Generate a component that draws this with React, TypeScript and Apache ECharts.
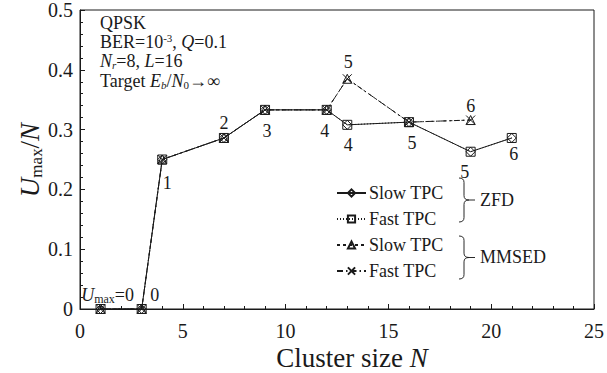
import React, { useEffect, useRef } from "react";
import * as echarts from "echarts";

// ---- data ----
const zfdN = [1, 3, 4, 7, 9, 12, 13, 16, 19, 21];
const zfdRatio = [0, 0, 0.25, 0.286, 0.333, 0.333, 0.308, 0.3125, 0.263, 0.286];
const zfdUmax = [0, 0, 1, 2, 3, 4, 4, 5, 5, 6];

const mmsedN = [1, 3, 4, 7, 9, 12, 13, 16, 19];
const mmsedRatio = [0, 0, 0.25, 0.286, 0.333, 0.333, 0.385, 0.3125, 0.316];
const mmsedUmax = [0, 0, 1, 2, 3, 4, 5, 5, 6];

const xTicks = [0, 5, 10, 15, 20, 25];
const yTicks = [0, 0.1, 0.2, 0.3, 0.4, 0.5];

const FONT = "'Liberation Serif', 'Times New Roman', 'DejaVu Serif', serif";
const INK = "#1a1a1a";

// label offsets from each point centre (style, kept apart from data)
const zfdLabelOff: Record<number, number[]> = {
  1: [7, -14],
  3: [13, -14],
  4: [5, 23],
  7: [0, -15],
  9: [2, 21],
  12: [-2, 21],
  13: [1, 20],
  16: [3, 21],
  19: [-6, 20],
  21: [2, 16],
};
const mmsedLabelOff: Record<number, number[]> = {
  13: [1, -17],
  19: [0, -14],
};

const braceD =
  "M0,0 Q5,0 5,5 L5,20 Q5,25 10,25 L16,25 M10,25 Q5,25 5,30 L5,45 Q5,50 0,50";
echarts.graphic.registerShape("brace", echarts.graphic.extendPath(braceD, {}) as any);

export default function App() {
  const ref = useRef<HTMLDivElement>(null);
  useEffect(() => {
    document.body.style.margin = "0";
    if (!ref.current) return;
    const chart = echarts.init(ref.current, undefined, { renderer: "svg" });

    const labelText = (u: number, n: number) => (n === 1 ? `{i|U}{s|max}=${u}` : `${u}`);
    const labelRich = {
      i: { fontFamily: FONT, fontSize: 18, fontStyle: "italic", color: INK, lineHeight: 20 },
      s: { fontFamily: FONT, fontSize: 12, color: INK, verticalAlign: "bottom", lineHeight: 20, padding: [7, 0, 0, 0] },
    };

    const buildData = (ns: number[], ys: number[], us: number[], offs: Record<number, number[]>) =>
      ns.map((n, i) => {
        const off = offs[n];
        return {
          value: [n, ys[i]],
          label: off
            ? {
                show: true,
                position: "inside",
                offset: off,
                formatter: labelText(us[i], n),
                fontFamily: FONT,
                fontSize: 18,
                lineHeight: 20,
                color: INK,
                rich: labelRich,
              }
            : { show: false },
        };
      });

    const common = {
      type: "line",
      symbolSize: 9,
      showSymbol: true,
      z: 3,
    };
    const mark = { color: "transparent", borderColor: INK, borderWidth: 1 };

    const option: any = {
      animation: false,
      backgroundColor: "#fff",
      textStyle: { fontFamily: FONT },
      grid: { left: 80, right: 10, top: 10, bottom: 64, show: true, borderColor: INK, borderWidth: 1 },
      xAxis: {
        type: "value",
        min: 0,
        max: 25,
        interval: 5,
        axisLine: { lineStyle: { color: INK } },
        axisTick: { inside: true, length: 5, lineStyle: { color: INK } },
        minorTick: { show: true, splitNumber: 5, length: 3, lineStyle: { color: INK } },
        splitLine: { show: false },
        axisLabel: {
          fontFamily: FONT,
          fontSize: 20,
          color: INK,
          margin: 12,
          formatter: (v: number) => (xTicks.includes(v) ? String(v) : ""),
        },
      },
      yAxis: {
        type: "value",
        min: 0,
        max: 0.5,
        interval: 0.1,
        axisLine: { show: true, lineStyle: { color: INK } },
        axisTick: { inside: true, length: 5, lineStyle: { color: INK } },
        minorTick: { show: true, splitNumber: 5, length: 3, lineStyle: { color: INK } },
        splitLine: { show: false },
        axisLabel: {
          fontFamily: FONT,
          fontSize: 20,
          color: INK,
          margin: 7,
          formatter: (v: number) => {
            const t = yTicks.find((y) => Math.abs(y - v) < 1e-9);
            return t === undefined ? "" : t === 0 ? "0" : t.toFixed(1);
          },
        },
      },
      legend: {
        orient: "vertical",
        left: 336,
        top: 184,
        padding: 0,
        itemWidth: 29,
        itemHeight: 9,
        itemGap: 8,
        textStyle: { fontFamily: FONT, fontSize: 18, color: INK, padding: [0, 0, 0, -2] },
        formatter: (name: string) => name.replace(/^(ZFD|MMSED) /, ""),
        data: ["ZFD Slow TPC", "ZFD Fast TPC", "MMSED Slow TPC", "MMSED Fast TPC"],
      },
      series: [
        {
          ...common,
          name: "MMSED Slow TPC",
          symbol: "triangle",
          data: buildData(mmsedN, mmsedRatio, mmsedUmax, {}),
          lineStyle: { color: INK, width: 1, type: [3, 3] },
          itemStyle: mark,
        },
        {
          ...common,
          name: "MMSED Fast TPC",
          symbol: "path://M0,0L10,10M10,0L0,10",
          data: buildData(mmsedN, mmsedRatio, mmsedUmax, mmsedLabelOff),
          lineStyle: { color: INK, width: 1, type: [6, 3, 1.5, 3] },
          itemStyle: { color: "none", borderColor: INK, borderWidth: 1 },
        },
        {
          ...common,
          name: "ZFD Fast TPC",
          symbol: "rect",
          data: buildData(zfdN, zfdRatio, zfdUmax, {}),
          lineStyle: { color: INK, width: 1, type: [1, 2] },
          itemStyle: mark,
        },
        {
          ...common,
          name: "ZFD Slow TPC",
          symbol: "diamond",
          data: buildData(zfdN, zfdRatio, zfdUmax, zfdLabelOff),
          lineStyle: { color: INK, width: 1, type: "solid" },
          itemStyle: mark,
        },
      ],
      graphic: [
        {
          type: "text",
          x: 100,
          y: 13,
          style: {
            text: "QPSK\nBER=10{sup|-3}, {i|Q}=0.1\n{i|N}{subi|r}=8, {i|L}=16\nTarget {i|E}{subi|b}/{i|N}{sub|0}→∞",
            fontFamily: FONT,
            fontSize: 18,
            lineHeight: 19.3,
            fill: INK,
            rich: {
              i: { fontFamily: FONT, fontSize: 18, fontStyle: "italic", fill: INK, lineHeight: 19.3 },
              sup: { fontFamily: FONT, fontSize: 11, fill: INK, verticalAlign: "top", lineHeight: 19.3, padding: [0, 0, 7, 0] },
              sub: { fontFamily: FONT, fontSize: 11, fill: INK, verticalAlign: "bottom", lineHeight: 19.3, padding: [6, 0, 0, 0] },
              subi: { fontFamily: FONT, fontSize: 11, fontStyle: "italic", fill: INK, verticalAlign: "bottom", lineHeight: 19.3, padding: [6, 0, 0, 0] },
            },
          },
        },
        {
          type: "text",
          x: 352,
          y: 358,
          style: {
            text: "{a|Cluster size }{b|N}",
            align: "center",
            verticalAlign: "middle",
            rich: {
              a: { fontFamily: FONT, fontSize: 27, fill: INK, lineHeight: 28 },
              b: { fontFamily: FONT, fontSize: 27, fontStyle: "italic", fill: INK, lineHeight: 28 },
            },
          },
        },
        {
          type: "text",
          x: 30,
          y: 160,
          rotation: Math.PI / 2,
          style: {
            text: "{i|U}{s|max}{a|/}{i|N}",
            align: "center",
            verticalAlign: "middle",
            rich: {
              i: { fontFamily: FONT, fontSize: 27, fontStyle: "italic", fill: INK, lineHeight: 30 },
              a: { fontFamily: FONT, fontSize: 27, fill: INK, lineHeight: 30 },
              s: { fontFamily: FONT, fontSize: 17, fill: INK, verticalAlign: "bottom", lineHeight: 30, padding: [10, 0, 0, 0] },
            },
          },
        },
        {
          type: "brace",
          x: 459,
          y: 178,
          scaleX: 1,
          scaleY: 0.88,
          style: { fill: "none", stroke: INK, lineWidth: 1 },
        },
        {
          type: "brace",
          x: 459,
          y: 236,
          scaleX: 1,
          scaleY: 0.86,
          style: { fill: "none", stroke: INK, lineWidth: 1 },
        },
        {
          type: "text",
          x: 480,
          y: 200,
          style: { text: "ZFD", fontFamily: FONT, fontSize: 18, fill: INK, verticalAlign: "middle" },
        },
        {
          type: "text",
          x: 480,
          y: 257,
          style: { text: "MMSED", fontFamily: FONT, fontSize: 18, fill: INK, verticalAlign: "middle" },
        },
      ],
    };
    chart.setOption(option);
    return () => chart.dispose();
  }, []);
  return <div ref={ref} style={{ width: 607, height: 373 }} />;
}
